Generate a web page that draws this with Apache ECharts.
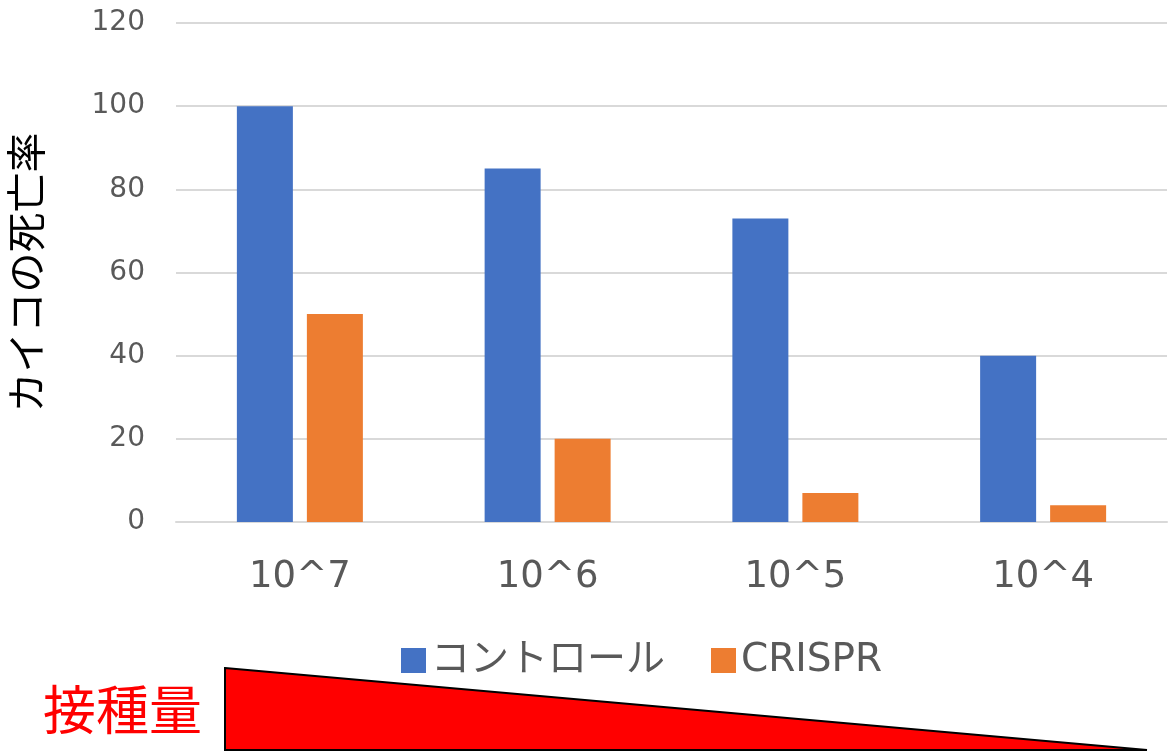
<!DOCTYPE html>
<html><head><meta charset="utf-8">
<script src="https://cdn.jsdelivr.net/npm/echarts@6/dist/echarts.min.js"></script>
<style>html,body{margin:0;padding:0;background:#fff}#c{width:1168px;height:755px}</style>
</head><body><div id="c"></div>
<script>
const categories = ['10^7', '10^6', '10^5', '10^4'];
const controlValues = [100, 85, 73, 40];
const crisprValues = [50, 20, 7, 4];
const seriesNames = ['コントロール', 'CRISPR'];
const yAxisName = 'カイコの死亡率';
const doseLabel = '接種量';

const FONT = 'DejaVu Sans, "Noto Sans CJK JP", sans-serif';
const chart = echarts.init(document.getElementById('c'));
chart.setOption({
  animation: false,
  backgroundColor: '#fff',
  grid: { left: 176, right: 1, top: 23, bottom: 233, containLabel: false, outerBoundsMode: 'none' },
  legend: {
    left: 396, top: 636, icon: 'rect', itemWidth: 25, itemHeight: 25, itemGap: 46,
    textStyle: { fontSize: 39, color: '#595959', fontFamily: FONT }
  },
  xAxis: {
    type: 'category', data: categories,
    axisLine: { lineStyle: { color: '#d9d9d9', width: 2 } },
    axisTick: { show: false },
    axisLabel: { fontSize: 37, color: '#595959', margin: 37, fontFamily: FONT }
  },
  yAxis: {
    type: 'value', min: 0, max: 120, interval: 20,
    name: yAxisName, nameLocation: 'middle', nameRotate: 90, nameGap: 130,
    nameTextStyle: { fontSize: 40, color: '#000', fontFamily: '"Noto Sans CJK JP", sans-serif' },
    axisLine: { show: false }, axisTick: { show: false },
    splitLine: { lineStyle: { color: '#d9d9d9', width: 2 } },
    axisLabel: { fontSize: 28, color: '#595959', margin: 31, fontFamily: FONT }
  },
  series: [
    { name: seriesNames[0], type: 'bar', data: controlValues, barWidth: 56, barGap: '25%', itemStyle: { color: '#4472C4' } },
    { name: seriesNames[1], type: 'bar', data: crisprValues, barWidth: 56, barGap: '25%', itemStyle: { color: '#ED7D31' } }
  ],
  graphic: [
    { type: 'polygon', shape: { points: [[225, 668], [1147, 750], [225, 750]] },
      style: { fill: '#FF0000', stroke: '#000', lineWidth: 2 } },
    { type: 'text', left: 43, top: 683,
      style: { text: doseLabel, fontSize: 53, fill: '#FF0000', fontFamily: '"Noto Sans CJK JP", sans-serif' } }
  ]
});
</script></body></html>
